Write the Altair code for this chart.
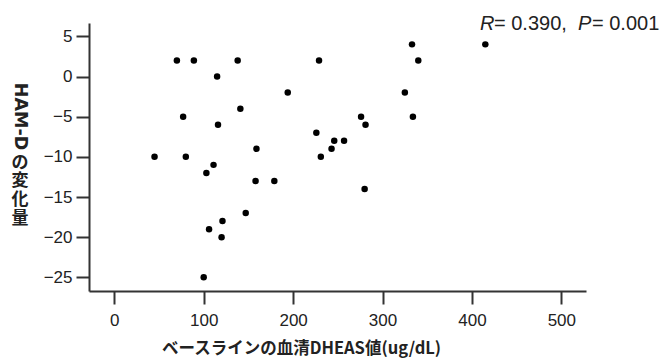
import altair as alt
import pandas as pd

# DHEAS baseline (ug/dL) and change in HAM-D
dheas = [45, 70, 89, 77, 80, 115, 116, 103, 111, 138, 141, 159, 158, 179, 194,
         147, 121, 106, 120, 100, 229, 226, 231, 243, 246, 257, 276, 281, 280,
         325, 333, 334, 340, 415]
ham_d = [-10, 2, 2, -5, -10, 0, -6, -12, -11, 2, -4, -9, -13, -13, -2,
         -17, -18, -19, -20, -25, 2, -7, -10, -9, -8, -8, -5, -6, -14,
         -2, 4, -5, 2, 4]
x_ticks = [0, 100, 200, 300, 400, 500]
y_ticks = [-25, -20, -15, -10, -5, 0, 5]
x_title = "ベースラインの血清DHEAS値(ug/dL)"
y_title_latin = "HAM-D"
y_title_cjk = ["の", "変", "化", "量"]
stat_parts = [("R", "italic"), ("= 0.390,", "normal"), ("P", "italic"), ("= 0.001", "normal")]

df = pd.DataFrame({"dheas": dheas, "ham_d": ham_d})

W, H = 497, 268
AX = "#333333"

points = alt.Chart(df).mark_circle(size=42, color="black", opacity=1).encode(
    x=alt.X("dheas:Q", scale=alt.Scale(domain=[-28.3, 527.6], nice=False, zero=False),
            axis=alt.Axis(values=x_ticks, title=x_title, grid=False,
                          tickSize=13, tickWidth=2, tickColor=AX,
                          domainColor=AX, domainWidth=2,
                          labelFont="Liberation Sans", labelFontSize=17, labelColor="#222",
                          labelPadding=8,
                          titleFont="Noto Sans CJK JP", titleFontSize=16.5, titleFontWeight="bold",
                          titleColor="#222", titleX=212, titleY=62, titleAlign="center",
                          titleBaseline="alphabetic", titleAnchor="start")),
    y=alt.Y("ham_d:Q", scale=alt.Scale(domain=[-26.7, 6.66], nice=False, zero=False),
            axis=alt.Axis(values=y_ticks, title=None, grid=False,
                          tickSize=13, tickWidth=2, tickColor=AX,
                          domainColor=AX, domainWidth=2,
                          labelFont="Liberation Sans", labelFontSize=17, labelColor="#222",
                          labelPadding=4)),
)

one = alt.Data(values=[{}])

ytitle_a = alt.Chart(one).mark_text(
    angle=90, align="center", baseline="middle", font="DejaVu Sans",
    fontSize=17.5, fontWeight="bold", color="#222"
).encode(x=alt.value(-69), y=alt.value(93.5), text=alt.value(y_title_latin))

cjk_y = [139.5, 158, 177, 196]
cjk_layers = []
for ch, yp in zip(y_title_cjk, cjk_y):
    cjk_layers.append(
        alt.Chart(one).mark_text(
            align="center", baseline="middle", font="Noto Sans CJK JP",
            fontSize=17, fontWeight="bold", color="#222"
        ).encode(x=alt.value(-69), y=alt.value(yp), text=alt.value(ch))
    )

stat_x = [391, 405, 489, 503]
stat_layers = []
for (txt, style), xp in zip(stat_parts, stat_x):
    stat_layers.append(
        alt.Chart(one).mark_text(
            align="left", baseline="alphabetic", font="Liberation Sans",
            fontSize=20, fontStyle=style, color="#222"
        ).encode(x=alt.value(xp), y=alt.value(7), text=alt.value(txt))
    )

chart = alt.layer(points, ytitle_a, *cjk_layers, *stat_layers).properties(
    width=W, height=H,
    autosize=alt.AutoSizeParams(type="none"),
    padding={"left": 81, "top": 15, "right": 74, "bottom": 67},
).configure_view(stroke=None)

chart.save("out.html", embed_options={"renderer": "svg", "actions": False})
